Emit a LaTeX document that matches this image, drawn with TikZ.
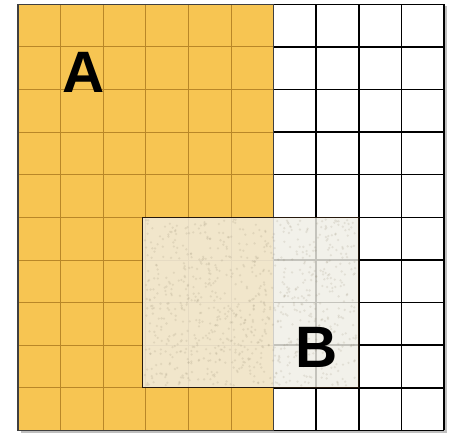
\documentclass[tikz,border=0pt]{standalone}
\usepackage{fontspec}
\setsansfont{Liberation Sans}
\usepackage{tikz}

\definecolor{gold}{RGB}{247,197,82}
\definecolor{goldline}{RGB}{185,135,40}
\definecolor{paper}{RGB}{240,238,230}
\definecolor{speck}{RGB}{140,130,105}

\tikzset{
  letter/.style={font=\sffamily\bfseries\fontsize{39}{39}\selectfont, inner sep=0pt}
}

\begin{document}
\begin{tikzpicture}
        \useasboundingbox (-0.42,-0.05) rectangle (10.14,10.1);
        % shadow and the two parts of the square
        \fill[black!25] (0.07,-0.05) rectangle (10.07,9.95);
        \fill[gold] (0,0) rectangle (6,10);
        \fill[white] (6,0) rectangle (10,10);
        % grid
        \foreach \x in {1,...,5} \draw[goldline, line width=0.5pt] (\x,0) -- (\x,10);
        \foreach \y in {1,...,9} \draw[goldline, line width=0.5pt] (0,\y) -- (6,\y);
        \foreach \x in {6,...,10} \draw[line width=1pt] (\x,0) -- (\x,10);
        \foreach \y in {0,...,10} \draw[line width=1pt] (6,\y) -- (10,\y);
        \draw[black!75, line width=1pt] (0,0) rectangle (6,10);
        % square B
        \fill[paper, opacity=0.82] (2.93,1) rectangle (8,5);
        \pgfmathsetseed{11}
        \foreach \i in {1,...,900} {
            \pgfmathsetmacro\px{2.98+4.97*rnd}
            \pgfmathsetmacro\py{1.05+3.9*rnd}
            \fill[speck, opacity=0.16] (\px,\py) circle (0.03);
        }
        \draw[black!80!brown, line width=0.6pt] (2.93,1) rectangle (8,5);
        \node[letter] (A) at (1.53,8.4) {A};
        \node[letter] (B) at (7.0,1.95) {B};
    \end{tikzpicture}
\end{document}
